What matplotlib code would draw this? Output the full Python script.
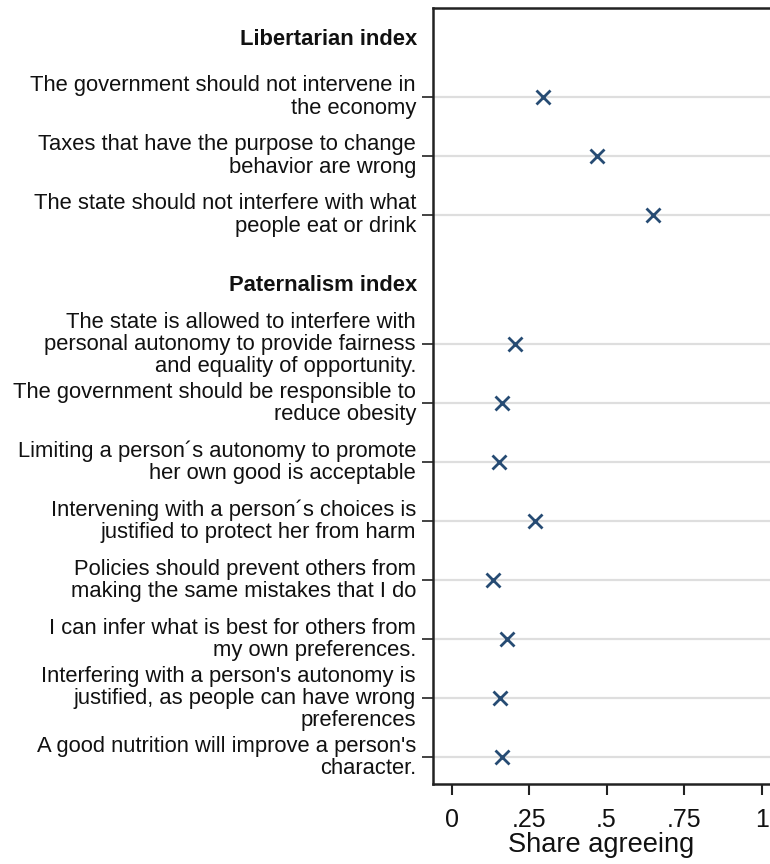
import matplotlib

matplotlib.use("Agg")

import matplotlib.pyplot as plt
import numpy as np

plt.rcParams["font.family"] = ["Liberation Sans", "DejaVu Sans"]

# data
libertarian_header = "Libertarian index"
libertarian_items = [
    "The government should not intervene in\nthe economy",
    "Taxes that have the purpose to change\nbehavior are wrong",
    "The state should not interfere with what\npeople eat or drink",
]
libertarian_share = [0.295, 0.469, 0.650]

paternalism_header = "Paternalism index"
paternalism_items = [
    "The state is allowed to interfere with\npersonal autonomy to provide fairness\nand equality of opportunity.",
    "The government should be responsible to\nreduce obesity",
    "Limiting a person\u00b4s autonomy to promote\nher own good is acceptable",
    "Intervening with a person\u00b4s choices is\njustified to protect her from harm",
    "Policies should prevent others from\nmaking the same mistakes that I do",
    "I can infer what is best for others from\nmy own preferences.",
    "Interfering with a person's autonomy is\njustified, as people can have wrong\npreferences",
    "A good nutrition will improve a person's\ncharacter.",
]
paternalism_share = [0.204, 0.162, 0.152, 0.269, 0.133, 0.178, 0.155, 0.162]

x_ticks = [0, 0.25, 0.5, 0.75, 1]
x_tick_labels = ["0", ".25", ".5", ".75", "1"]

MARKER = "#264b73"
GRID = "#dedede"
TEXT = "#111111"

# row layout (rows are one unit apart, groups separated by a gap)
lib_pos = np.arange(len(libertarian_items), dtype=float)
lib_header_pos = lib_pos[0] - 0.97
pat_header_pos = lib_pos[-1] + 1.19
pat_pos = pat_header_pos + 1 + np.arange(len(paternalism_items), dtype=float)

items = libertarian_items + paternalism_items
shares = libertarian_share + paternalism_share
positions = np.concatenate([lib_pos, pat_pos])

fig = plt.figure(figsize=(7.7, 8.64), dpi=100)
ax = fig.add_axes([433 / 770, 1 - 784 / 864, 1 - 433 / 770, (784 - 8) / 864])

for y in positions:
    ax.axhline(y, color=GRID, linewidth=1.6, zorder=1)

ax.plot(shares, positions, linestyle="none", marker="x", markersize=10,
        markeredgewidth=2.0, color=MARKER, zorder=3)

ax.set_yticks(positions)
ax.set_yticklabels(items, fontsize=15.8, linespacing=1.07, ha="right",
                   va="center", color=TEXT)
ax.tick_params(axis="y", length=8, width=1.2, pad=4.3, color="#222222")

for pos, header in [(lib_header_pos, libertarian_header), (pat_header_pos, paternalism_header)]:
    ax.text(-0.06 - 16 / 310, pos, header, fontsize=15.8, fontweight="bold",
            ha="right", va="center", color=TEXT)

ax.set_xticks(x_ticks)
ax.set_xticklabels(x_tick_labels, fontsize=18, color=TEXT)
ax.tick_params(axis="x", length=8, width=1.5, pad=9, color="#222222")
ax.set_xlabel("Share agreeing", fontsize=19.6, labelpad=0, color=TEXT)

ax.set_xlim(-0.06, 1.027)
ax.set_ylim((784 - 97) / 59, (8 - 97) / 59)

for side in ["left", "bottom", "top"]:
    ax.spines[side].set_linewidth(1.8)
    ax.spines[side].set_color("#222222")
ax.spines["right"].set_visible(False)

fig.savefig("out.png", dpi=100)
